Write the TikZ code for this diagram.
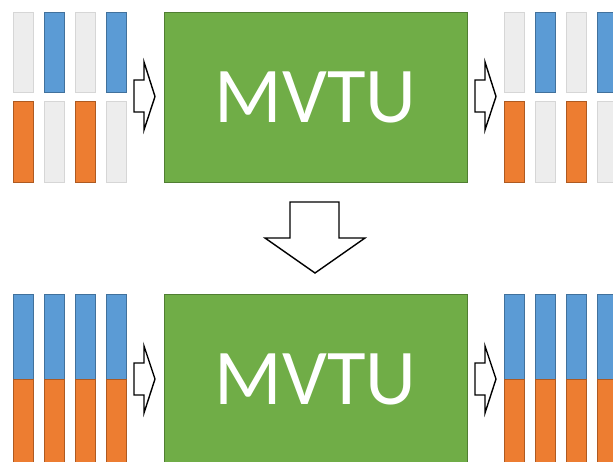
\documentclass[tikz,border=0pt]{standalone}
\usepackage{fontspec}
\setmainfont{Carlito}
\definecolor{cellgray}{HTML}{EDEDED}
\definecolor{cellgrayline}{HTML}{D6D6D6}
\definecolor{cellblue}{HTML}{5B9BD5}
\definecolor{cellblueline}{HTML}{41719C}
\definecolor{cellorange}{HTML}{ED7D31}
\definecolor{cellorangeline}{HTML}{AE5A21}
\definecolor{unitgreen}{HTML}{70AD47}
\definecolor{unitgreenline}{HTML}{507E32}
\tikzset{
  gcell/.style={fill=cellgray, draw=cellgrayline, line width=1pt},
  bcell/.style={fill=cellblue, draw=cellblueline, line width=1pt},
  ocell/.style={fill=cellorange, draw=cellorangeline, line width=1pt},
  unit/.style={rectangle, fill=unitgreen, draw=unitgreenline, line width=1pt,
    minimum width=303pt, minimum height=170pt, inner sep=0pt,
    text=white, font=\fontsize{79}{79}\selectfont},
  blockarrow/.style={fill=white, draw=black, line width=1.4pt, line join=miter},
}
\begin{document}
\begin{tikzpicture}[x=1pt,y=-1pt]
\useasboundingbox (0,0) rectangle (613,461);
\clip (0,0) rectangle (613,461);

% ---- upper stage: sparse cells ----
\foreach \x/\ta/\tb in {13/gcell/ocell, 44/bcell/gcell, 75/gcell/ocell, 106/bcell/gcell,
                        504/gcell/ocell, 535/bcell/gcell, 566/gcell/ocell, 597/bcell/gcell} {
  \draw[\ta] (\x,12) rectangle ++(20,80);
  \draw[\tb] (\x,101) rectangle ++(20,81);
}
\node[unit] (mvtuA) at (315.5,97) {MVTU};

% input / output arrows of the upper unit
\draw[blockarrow] (134,80) -- (144,80) -- (144,62) -- (155,96.5) -- (144,130) -- (144,112) -- (134,112) -- cycle;
\draw[blockarrow] (475,80) -- (485,80) -- (485,62) -- (496,96.5) -- (485,130) -- (485,112) -- (475,112) -- cycle;

% ---- transition arrow ----
\draw[blockarrow] (290,202) -- (339,202) -- (339,238) -- (365,238) -- (315,273) -- (265,238) -- (290,238) -- cycle;

% ---- lower stage: dense cells ----
\foreach \x in {13,44,75,106,504,535,566,597} {
  \draw[bcell] (\x,294) rectangle ++(20,85);
  \draw[ocell] (\x,379) rectangle ++(20,85);
}
\node[unit] (mvtuB) at (315.5,379) {MVTU};

\draw[blockarrow] (134,363) -- (144,363) -- (144,346) -- (155,379) -- (144,413) -- (144,395) -- (134,395) -- cycle;
\draw[blockarrow] (475,363) -- (485,363) -- (485,346) -- (496,379) -- (485,413) -- (485,395) -- (475,395) -- cycle;
\end{tikzpicture}
\end{document}
